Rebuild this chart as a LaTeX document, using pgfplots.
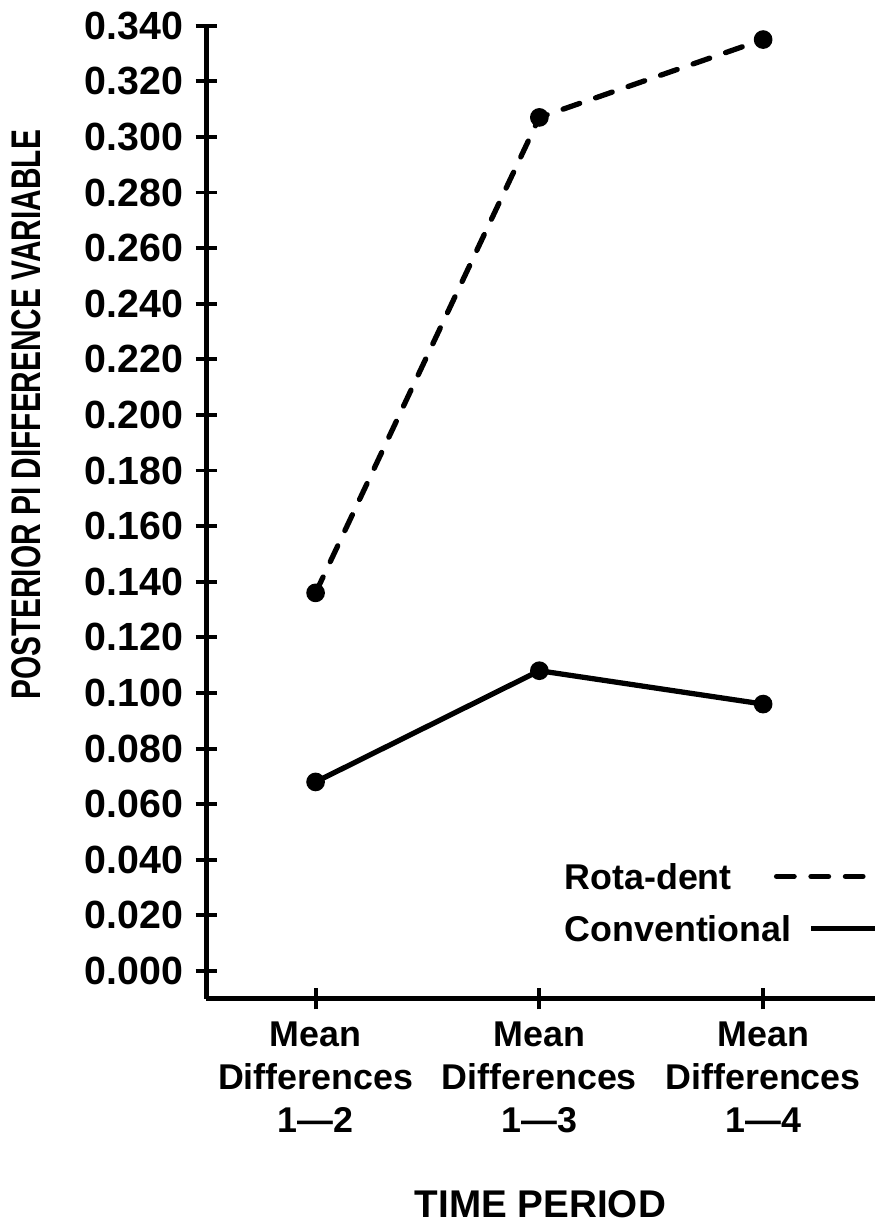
\documentclass[border=0pt]{standalone}
\usepackage{fontspec}
\setmainfont{Liberation Sans}
\newfontfamily\condfont{Liberation Sans}[FakeStretch=0.72]
\usepackage{pgfplots}
\pgfplotsset{compat=1.18}
\newcommand{\tickfont}{\fontsize{11.2}{12.2}\selectfont\bfseries}
\newcommand{\xtickfont}{\fontsize{10.2}{12.2}\selectfont\bfseries}
\begin{document}
\begin{tikzpicture}
\begin{axis}[
  scale only axis,
  width=6.69cm, height=9.74cm,
  xmin=0.511, xmax=3.498,
  ymin=-0.010, ymax=0.34,
  axis lines=left,
  axis line style={-, line width=1.4pt},
  clip=false,
  xtick={1,2,3},
  xticklabels={{Mean\\Differences\\1---2},{Mean\\Differences\\1---3},{Mean\\Differences\\1---4}},
  ytick={0,0.02,0.04,0.06,0.08,0.1,0.12,0.14,0.16,0.18,0.2,0.22,0.24,0.26,0.28,0.3,0.32,0.34},
  tick align=center,
  major tick length=0.21cm,
  tick style={line width=1.1pt, black},
  y tick label style={font=\tickfont},
  x tick label style={font=\xtickfont, align=center},
  /pgf/number format/assume math mode=true,
  y tick label style={/pgf/number format/fixed, /pgf/number format/fixed zerofill, /pgf/number format/precision=3},
  xlabel={TIME PERIOD},
  xlabel style={font=\fontsize{11}{13}\selectfont\bfseries, at={(axis description cs:0.5,-0.2115)}, anchor=center},
  ylabel={POSTERIOR PI DIFFERENCE VARIABLE},
  ylabel style={font=\fontsize{11.8}{13}\condfont\bfseries, at={(axis description cs:-0.269,0.600)}, anchor=center},
]
\addplot[black, line width=1.5pt, dash pattern=on 5pt off 4.8pt, line cap=round,
  mark=*, mark size=1.9pt, mark options={solid}]
  coordinates {(1,0.136) (2,0.307) (3,0.335)};
\addplot[black, line width=1.5pt, mark=*, mark size=1.9pt]
  coordinates {(1,0.068) (2,0.108) (3,0.096)};
% legend
\node[anchor=west, font=\fontsize{10.2}{12}\selectfont\bfseries, inner sep=0pt] at (axis cs:2.11,0.034) {Rota-dent};
\node[anchor=west, font=\fontsize{10.2}{12}\selectfont\bfseries, inner sep=0pt] at (axis cs:2.11,0.0153) {Conventional};
\draw[black, line width=1.5pt, dash pattern=on 5pt off 4.8pt, line cap=round] (axis cs:3.06,0.034) -- (axis cs:3.498,0.034);
\draw[black, line width=1.5pt] (axis cs:3.215,0.0153) -- (axis cs:3.498,0.0153);
\end{axis}
\end{tikzpicture}
\end{document}
